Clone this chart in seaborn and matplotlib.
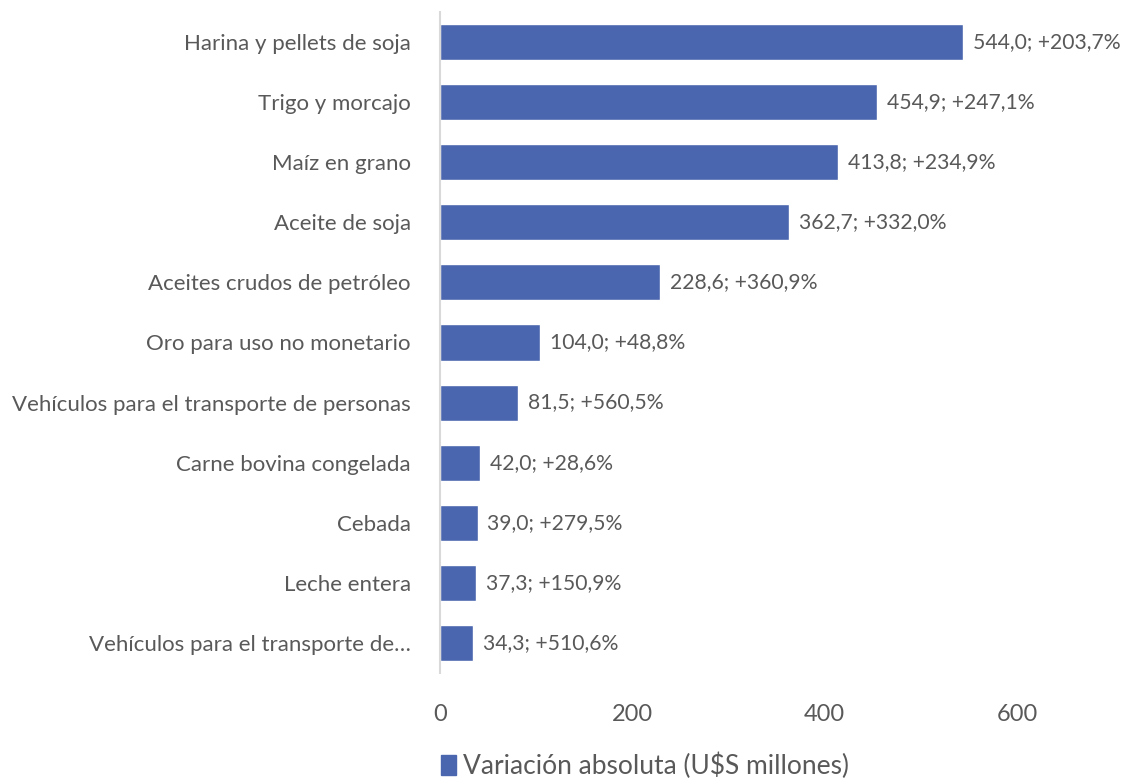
import matplotlib
matplotlib.use("Agg")
import matplotlib.pyplot as plt
import seaborn as sns
import pandas as pd
from matplotlib.patches import Patch

categories = [
    "Harina y pellets de soja",
    "Trigo y morcajo",
    "Maíz en grano",
    "Aceite de soja",
    "Aceites crudos de petróleo",
    "Oro para uso no monetario",
    "Vehículos para el transporte de personas",
    "Carne bovina congelada",
    "Cebada",
    "Leche entera",
    "Vehículos para el transporte de…",
]
values = [544.0, 454.9, 413.8, 362.7, 228.6, 104.0, 81.5, 42.0, 39.0, 37.3, 34.3]
pct_change = [203.7, 247.1, 234.9, 332.0, 360.9, 48.8, 560.5, 28.6, 279.5, 150.9, 510.6]
x_ticks = [0, 200, 400, 600]
legend_label = "Variación absoluta (U$S millones)"

sns.set_theme(style="white")
plt.rcParams["font.family"] = ["Lato", "DejaVu Sans"]

BAR = "#4A66AE"
TXT = "#595959"

df = pd.DataFrame({"cat": categories, "val": values})

fig = plt.figure(figsize=(11.28, 7.78), dpi=100)
ax = fig.add_axes([440/1128, 1-673/778, (1017-440)/1128, (673-12)/778])
sns.barplot(data=df, y="cat", x="val", orient="h", color=BAR, width=0.6,
            saturation=1, ax=ax)
ax.set_xlim(0, 600)
ax.set_ylim(10.5, -0.5)
ax.set_xticks(x_ticks)
ax.set_xticklabels([str(t) for t in x_ticks], fontsize=17, color=TXT)
ax.tick_params(axis="x", length=0, pad=22)
ax.tick_params(axis="y", length=0, pad=21, labelsize=16, labelcolor=TXT)
ax.set_xlabel("")
ax.set_ylabel("")
for s in ["top", "right", "bottom"]:
    ax.spines[s].set_visible(False)
ax.spines["left"].set_color("#D9D9D9")
ax.spines["left"].set_linewidth(1.5)
ax.grid(False)

for i, (v, p) in enumerate(zip(values, pct_change)):
    lbl = f"{v:.1f}".replace(".", ",") + "; +" + f"{p:.1f}".replace(".", ",") + "%"
    ax.annotate(lbl, xy=(v, i), xytext=(7, 0), textcoords="offset points",
                va="center", ha="left", fontsize=15.2, color=TXT)

handles = [Patch(facecolor=BAR, edgecolor=BAR, label=legend_label)]
fig.legend(handles=handles, loc="center left", bbox_to_anchor=(441/1128, 1-766/778),
           frameon=False, fontsize=19, labelcolor=TXT, handlelength=0.55,
           handleheight=0.75, handletextpad=0.3, borderpad=0, borderaxespad=0)

fig.savefig("out.png", dpi=100)
